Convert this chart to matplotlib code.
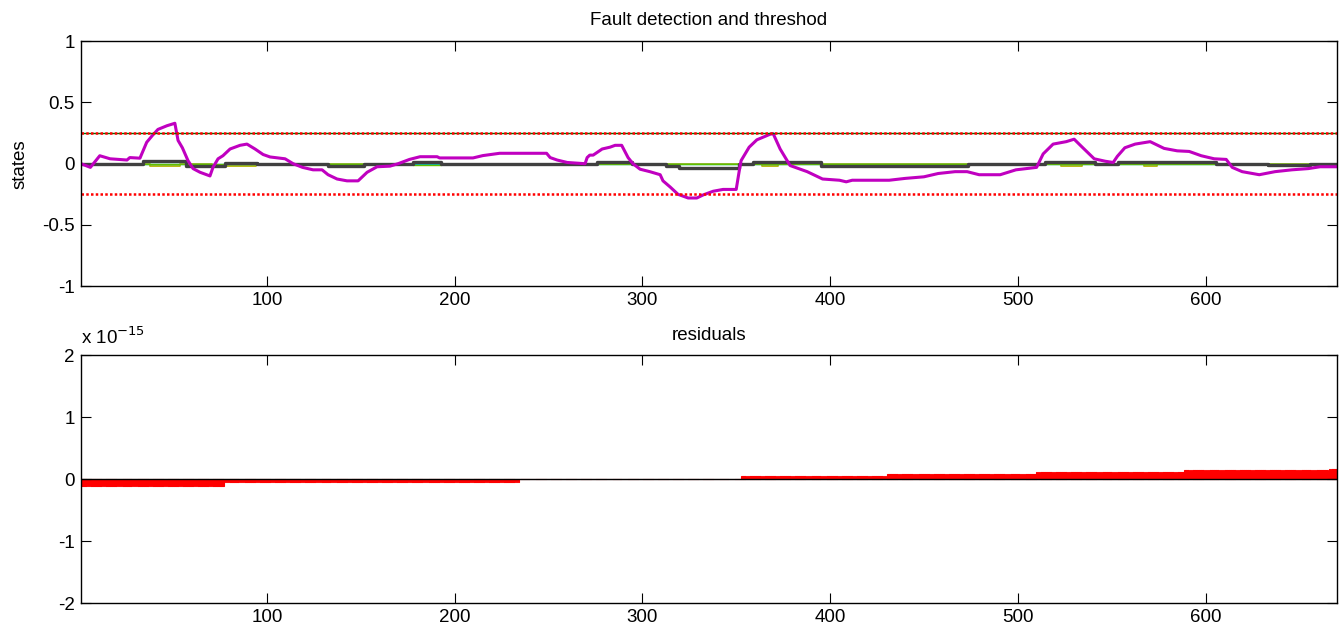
import numpy as np
import matplotlib
matplotlib.use("Agg")
import matplotlib.pyplot as plt

plt.rcParams['font.family'] = ['Liberation Sans', 'DejaVu Sans']

# ---- top plot: state estimate (magenta) ----
mag_x = [1, 6, 11, 16.5, 25.5, 27, 32.4, 36, 39, 42, 46.8, 51, 52.7, 55, 58, 60.7, 64.4,
         69.7, 71.3, 74, 76.6, 80.4, 85.7, 89.4, 93.7, 98, 101.7, 109.7, 114, 119, 124.6,
         129.4, 132.6, 137.4, 142.7, 148.6, 153.4, 158.7, 165.6, 169.9, 176, 181.6, 190.7,
         192, 209.8, 215, 224, 249, 250.9, 254.6, 260, 269.5, 270.6, 272, 273.8, 278.6,
         282.8, 285.5, 289, 292.4, 295, 298.8, 304, 309.5, 311, 314.8, 319, 324.4, 329,
         332.4, 337.7, 343, 350, 351.6, 352.6, 356.9, 361, 368, 369.7, 373.4, 378.7, 387.8,
         396, 405, 408.6, 411.8, 431.5, 440, 450, 457.6, 466.6, 473, 479.4, 490.6, 499, 510,
         513.5, 518.8, 525.8, 530, 534.3, 540.7, 546.6, 550.8, 553, 557, 562.5, 570.5, 577.9,
         584.9, 591.3, 597.7, 604.6, 611, 614.2, 619.5, 628.6, 637, 646, 654.7, 661, 670]
mag_y = [0, -0.03, 0.065, 0.04, 0.03, 0.05, 0.045, 0.175, 0.23, 0.28, 0.31, 0.33, 0.19, 0.13,
         0.025, -0.04, -0.07, -0.10, -0.03, 0.04, 0.065, 0.12, 0.15, 0.16, 0.12, 0.075, 0.055,
         0.04, 0.0, -0.03, -0.05, -0.05, -0.09, -0.125, -0.14, -0.14, -0.07, -0.025, -0.02,
         0.0, 0.035, 0.057, 0.057, 0.047, 0.047, 0.066, 0.085, 0.085, 0.05, 0.03, 0.01, 0.0,
         0.05, 0.07, 0.07, 0.12, 0.135, 0.15, 0.15, 0.05, 0.0, -0.045, -0.065, -0.09, -0.14,
         -0.19, -0.25, -0.28, -0.28, -0.255, -0.225, -0.21, -0.21, -0.06, 0.025, 0.135, 0.195,
         0.24, 0.245, 0.12, -0.015, -0.065, -0.125, -0.135, -0.148, -0.135, -0.135, -0.12,
         -0.107, -0.08, -0.065, -0.065, -0.09, -0.09, -0.05, -0.03, 0.08, 0.16, 0.18, 0.2,
         0.135, 0.04, 0.02, 0.01, 0.06, 0.13, 0.16, 0.18, 0.125, 0.105, 0.1, 0.065, 0.04,
         0.035, -0.03, -0.065, -0.09, -0.065, -0.05, -0.04, -0.025, -0.025]

# other states (step changes), x = start of each level
gray_x = [1, 34, 57, 77.7, 95, 132.6, 152, 178, 193, 276, 294.5, 312.7, 319.6, 351.6, 359,
          395, 473.6, 514.6, 541, 553.5, 605.7, 633.4, 655.8, 670]
gray_y = [0, 0.02, -0.015, 0.005, 0, -0.02, 0, 0.01, 0, 0.01, 0, -0.015, -0.035, 0, 0.01,
          -0.02, 0, 0.01, 0, 0.01, 0, -0.01, 0, 0]

olive_x = [1, 38, 54, 71, 94, 364, 372, 523, 534, 567, 574, 670]
olive_y = [0, -0.02, 0, -0.015, 0, -0.02, 0, -0.02, 0, -0.02, 0, 0]

green_x = [1, 178, 193, 670]
green_y = [0, -0.008, 0, 0]

cyan_x = [1, 670]
cyan_y = [0, 0]

threshold = 0.25

# ---- bottom plot: residuals, constant per segment ----
res_start = [1, 78, 235, 353, 431, 510, 589, 666]
res_end = [77, 234, 352, 430, 509, 588, 665, 670]
res_val = [-1.11e-16, -5.55e-17, 0.0, 5.55e-17, 8.33e-17, 1.11e-16, 1.39e-16, 1.67e-16]

n = np.arange(1, 671)
res = np.zeros(len(n))
for s, e, v in zip(res_start, res_end, res_val):
    res[(n >= s) & (n <= e)] = v

fs = 13.5

fig = plt.figure(figsize=(13.41, 6.29), dpi=100)
ax1 = fig.add_axes([0.0604, 0.545, 0.9366, 0.3895])
ax2 = fig.add_axes([0.0604, 0.0413, 0.9366, 0.3943])

ax1.plot(olive_x, olive_y, color='#b4b400', lw=1.3, drawstyle='steps-post')
ax1.plot(cyan_x, cyan_y, color='#00c0c0', lw=1.0)
ax1.plot(green_x, green_y, color='#60c000', lw=1.0, drawstyle='steps-post')
ax1.plot(gray_x, gray_y, color='#404040', lw=2.4, drawstyle='steps-post')
ax1.plot(mag_x, mag_y, color='#c000c0', lw=2.2)
ax1.axhline(threshold, color='#007000', lw=1.0)
ax1.axhline(threshold, color='#ff0000', lw=1.8, ls=(0, (1, 0.9)))
ax1.axhline(-threshold, color='#ff0000', lw=1.8, ls=(0, (1, 0.9)))
ax1.set_xlim(1, 670)
ax1.set_ylim(-1, 1)
ax1.set_yticks([-1, -0.5, 0, 0.5, 1])
ax1.set_yticklabels(['-1', '-0.5', '0', '0.5', '1'])
ax1.set_xticks([100, 200, 300, 400, 500, 600])
ax1.set_ylabel('states', fontsize=fs, labelpad=10)
ax1.set_title('Fault detection and threshod', fontsize=fs, pad=11.5)

ax2.bar(n, res / 1e-15, width=0.85, color='#ff0000', edgecolor='#ff0000', linewidth=0.8)
ax2.axhline(0, color='black', lw=1.0)
ax2.set_xlim(1, 670)
ax2.set_ylim(-2, 2)
ax2.set_yticks([-2, -1, 0, 1, 2])
ax2.set_yticklabels(['-2', '-1', '0', '1', '2'])
ax2.set_xticks([100, 200, 300, 400, 500, 600])
ax2.set_title('residuals', fontsize=fs, pad=11)
ax2.text(0.0, 1.03, r'x 10$^{-15}$', transform=ax2.transAxes, fontsize=fs,
         ha='left', va='bottom')

for ax in (ax1, ax2):
    ax.tick_params(direction='in', length=7, top=True, right=True, labelsize=fs, pad=4.5)
    for sp in ax.spines.values():
        sp.set_linewidth(1.0)

fig.savefig('out.png', dpi=100)
